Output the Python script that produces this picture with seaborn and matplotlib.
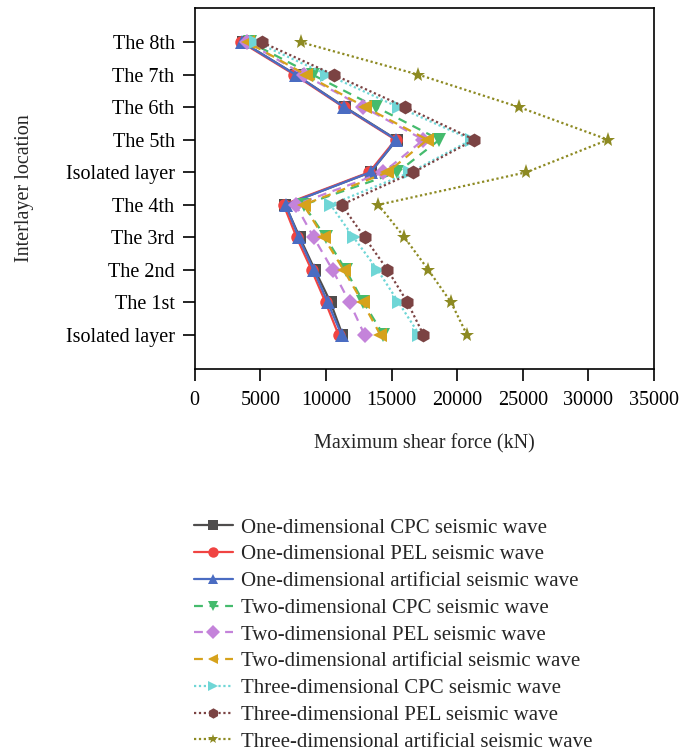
import matplotlib
matplotlib.use("Agg")
import matplotlib.pyplot as plt
import seaborn as sns
import pandas as pd

sns.set_theme(style="ticks")
plt.rcParams["font.family"] = ["Liberation Serif", "DejaVu Serif"]

layers = ["Isolated layer", "The 1st", "The 2nd", "The 3rd", "The 4th",
          "Isolated layer", "The 5th", "The 6th", "The 7th", "The 8th"]

one_cpc = [11260, 10350, 9150, 8000, 6900, 13400, 15400, 11450, 7700, 3650]
one_pel = [10960, 9970, 8900, 7760, 6770, 13300, 15300, 11350, 7600, 3550]
one_art = [11190, 10130, 9060, 7920, 6930, 13400, 15370, 11400, 7690, 3630]
two_cpc = [14380, 12860, 11500, 9970, 8300, 15450, 18650, 13850, 8980, 4200]
two_pel = [12940, 11800, 10500, 9060, 7690, 14380, 17430, 12860, 8300, 4000]
two_art = [14150, 12790, 11340, 9820, 8300, 14690, 17730, 13010, 8450, 4030]
three_cpc = [17120, 15530, 13930, 12100, 10350, 16440, 21100, 15530, 10100, 4640]
three_pel = [17430, 16210, 14690, 12940, 11190, 16670, 21310, 16060, 10580, 5100]
three_art = [20750, 19530, 17800, 15980, 14000, 25270, 31500, 24730, 17050, 8070]

series_names = [
    "One-dimensional CPC seismic wave",
    "One-dimensional PEL seismic wave",
    "One-dimensional artificial seismic wave",
    "Two-dimensional CPC seismic wave",
    "Two-dimensional PEL seismic wave",
    "Two-dimensional artificial seismic wave",
    "Three-dimensional CPC seismic wave",
    "Three-dimensional PEL seismic wave",
    "Three-dimensional artificial seismic wave",
]
series_values = [one_cpc, one_pel, one_art, two_cpc, two_pel, two_art,
                 three_cpc, three_pel, three_art]

colors = ["#4f4d4d", "#f04442", "#4a6cc2", "#45bb6d", "#c483da",
          "#d6a21c", "#6fd6d6", "#7b4343", "#8d8a22"]
markers = ["s", "o", "^", "v", "D", "<", ">", "h", "*"]
msizes = [8, 9, 9.5, 9.5, 8, 9.5, 9.5, 10, 11]
linestyles = ["-", "-", "-", (0, (4, 3)), (0, (4, 3)), (0, (4, 3)),
              (0, (1, 1.2)), (0, (1, 1.2)), (0, (1, 1.2))]

fig = plt.figure(figsize=(6.82, 7.56), dpi=100)
ax = fig.add_axes([0.2855, 0.5119, 0.6735, 0.4775])

pos = list(range(len(layers)))
for i, (name, vals) in enumerate(zip(series_names, series_values)):
    df = pd.DataFrame({"force": vals, "pos": pos})
    sns.lineplot(data=df, x="force", y="pos", orient="y", ax=ax,
                 color=colors[i], marker=markers[i], markersize=msizes[i],
                 markeredgewidth=0, linewidth=1.6, linestyle=linestyles[i],
                 label=name, legend=False)

ax.set_xlim(0, 35000)
ax.set_ylim(-1.05, 10.05)
ax.set_xticks([0, 5000, 10000, 15000, 20000, 25000, 30000, 35000])
ax.set_yticks(pos)
ax.set_yticklabels(layers)
ax.tick_params(axis="both", labelsize=14.5, direction="out", length=8.5,
               width=1.2, colors="black")
ax.tick_params(axis="x", pad=7)
ax.tick_params(axis="y", pad=6)
for s in ax.spines.values():
    s.set_linewidth(1.2)
    s.set_color("black")
ax.set_xlabel("Maximum shear force (kN)", fontsize=14.5, labelpad=18)
ax.set_ylabel("Interlayer location", fontsize=14.5, labelpad=23)

handles, labels = ax.get_legend_handles_labels()
leg = fig.legend(handles, labels, loc="upper left",
                 bbox_to_anchor=(0.284, 1 - 518 / 756), frameon=False,
                 fontsize=15, handlelength=1.9, handletextpad=0.35,
                 labelspacing=0.345, borderaxespad=0, borderpad=0)
for h in leg.legend_handles:
    h.set_markersize(7.5)

fig.savefig("out.png", dpi=100)
